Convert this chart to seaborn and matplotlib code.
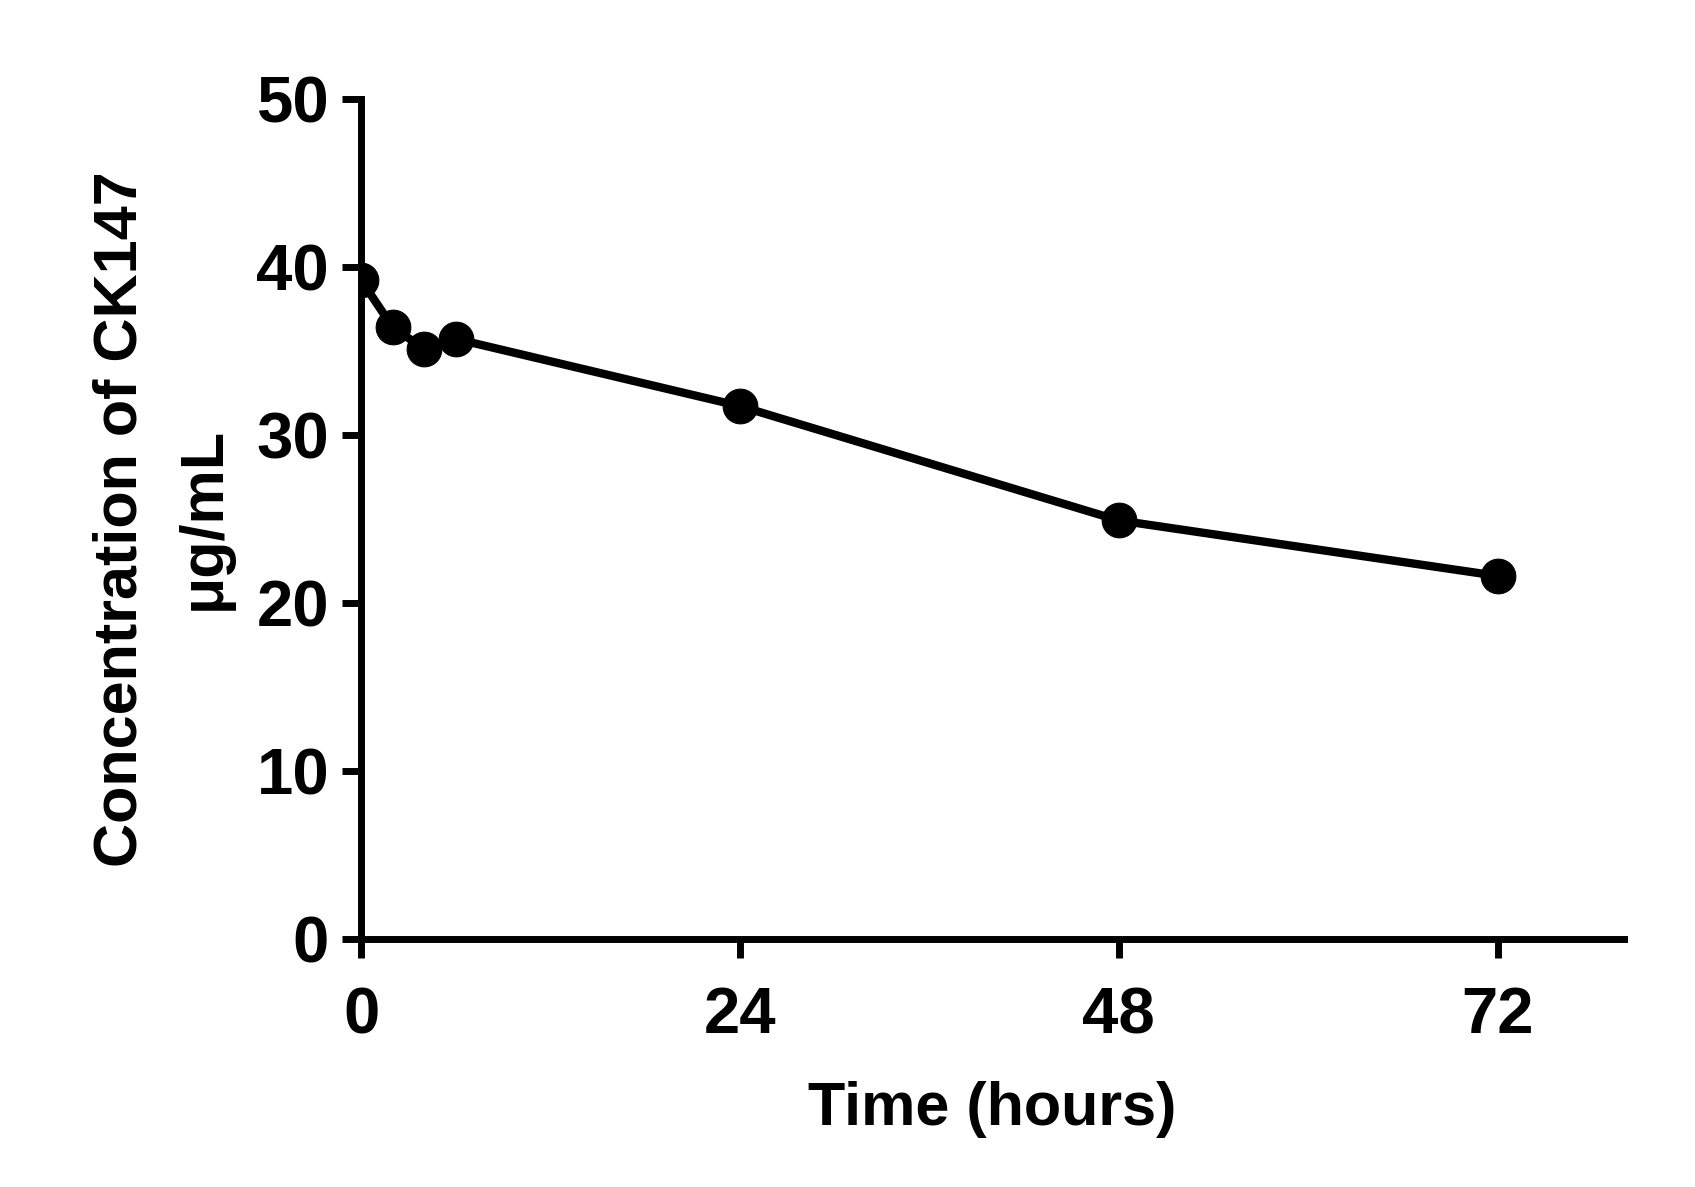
import matplotlib
matplotlib.use("Agg")
import matplotlib.pyplot as plt
import seaborn as sns
import pandas as pd

# -----------------------------
# DATA
# -----------------------------
time_h = [0, 2, 4, 6, 24, 48, 72]
conc = [39.2, 36.4, 35.1, 35.7, 31.7, 24.9, 21.6]
x_ticks = [0, 24, 48, 72]
y_ticks = [0, 10, 20, 30, 40, 50]

df = pd.DataFrame({"time": time_h, "conc": conc})

# -----------------------------
# STYLE
# -----------------------------
sns.set_style("ticks")
plt.rcParams['font.family'] = ['Liberation Sans', 'DejaVu Sans']
plt.rcParams['font.weight'] = 'bold'

fig = plt.figure(figsize=(16.95, 11.87), dpi=100)
ax = fig.add_axes([0.213, 0.209, 0.745, 0.708])

sns.lineplot(data=df, x="time", y="conc", ax=ax, color="black",
             linewidth=6, marker="o", markersize=25, markeredgecolor="black")

ax.set_xlim(0, 80)
ax.set_ylim(0, 50)
ax.set_xticks(x_ticks)
ax.set_yticks(y_ticks)

for side in ["top", "right"]:
    ax.spines[side].set_visible(False)
for side in ["left", "bottom"]:
    ax.spines[side].set_linewidth(5)
    ax.spines[side].set_color("black")

ax.tick_params(axis="both", direction="out", length=14, width=5,
               labelsize=47, colors="black")
ax.tick_params(axis="x", pad=20)
ax.tick_params(axis="y", pad=9)
for lbl in ax.get_xticklabels() + ax.get_yticklabels():
    lbl.set_fontweight("bold")

ax.set_xlabel("Time (hours)", fontsize=44, fontweight="bold",
              labelpad=25, color="black")
ax.set_ylabel("Concentration of CK147\nμg/mL", fontsize=44,
              fontweight="bold", labelpad=17, linespacing=1.6, color="black")

fig.savefig("out.png", dpi=100)
